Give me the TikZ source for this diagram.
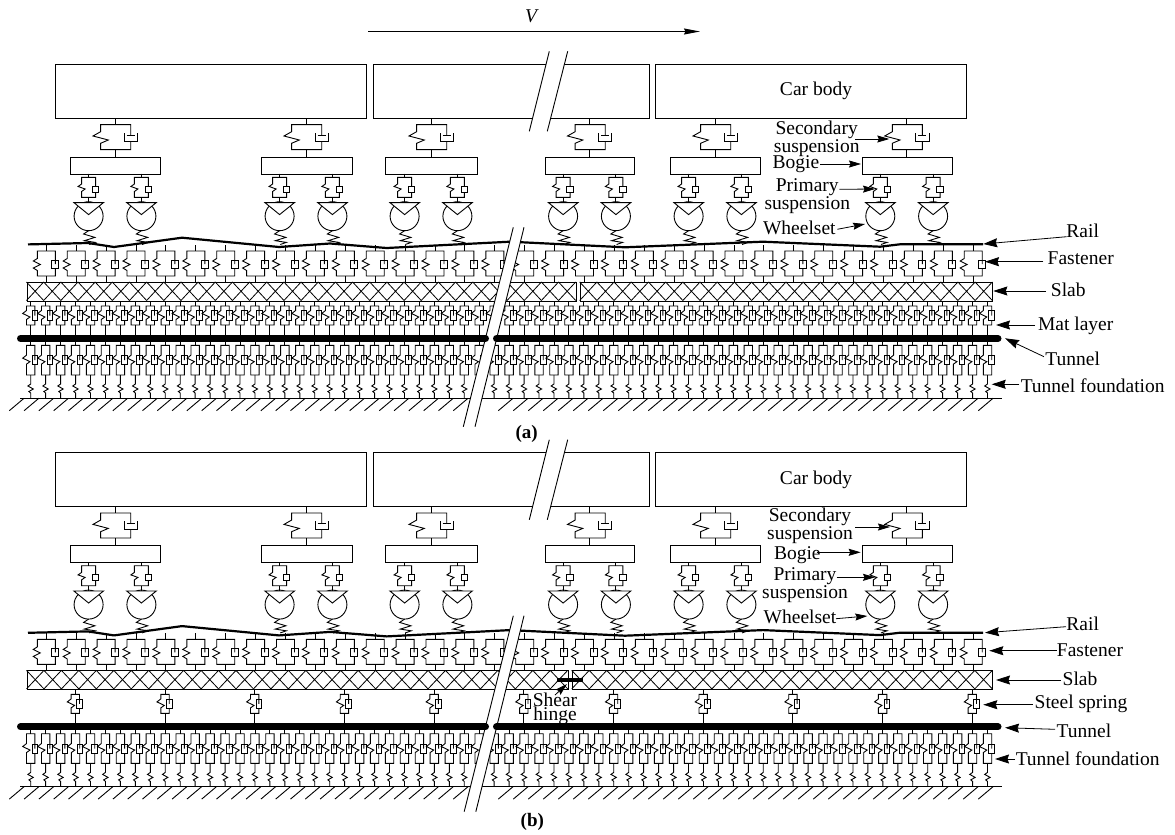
\documentclass[tikz,border=0pt]{standalone}
\usepackage{fontspec}
\setmainfont{Liberation Serif}
\usetikzlibrary{arrows.meta}
\tikzset{
  mech/.style={line width=0.9pt,line join=miter},
  boxn/.style={draw,line width=1pt,anchor=north west,inner sep=0pt,fill=white},
  lbl/.style={inner sep=0pt,align=center,font=\fontsize{19.5}{18}\selectfont},
  callarrow/.style={line width=0.8pt,-{Stealth[length=12pt,width=7pt,inset=1.5pt]}},
  bigarrow/.style={line width=0.8pt,-{Stealth[length=14pt,width=9pt,inset=1.5pt]}},
  railline/.style={line width=2.2pt,line join=round},
  tunnelline/.style={line width=7pt,line cap=round},
  breakline/.style={line width=0.9pt},
}
% secondary suspension (cx)
\newcommand\secsusp[1]{\begin{scope}[shift={(#1,0)},mech]
  \draw (0,118)--(0,124.6) (0,149.6)--(0,156.6);
  \draw (15.7,135.5)--(15.7,124.6)--(-14.4,124.6)--(-14.4,131.7)--(-22,136)--(-6.7,140)--(-14.4,143.3)--(-14.4,149.6)--(15.7,149.6)--(15.7,141.5);
  \draw (11.7,135.5)--(19.7,135.5);
  \draw (9,133)--(9,141.5)--(22.4,141.5)--(22.4,133);
\end{scope}}
% primary suspension + wheel (cx)
\newcommand\primwheel[1]{\begin{scope}[shift={(#1,0)},mech]
  \draw (0,173.6)--(0,177.3) (0,197.3)--(0,202.6);
  \draw (7,186)--(7,177.3)--(-7,177.3)--(-7,184)--(-10.5,186.5)--(-3.5,189)--(-7,191.5)--(-7,197.3)--(7,197.3)--(7,192);
  \draw (3.8,186) rectangle (10.2,192);
  \draw (0,216.2) circle (14.5);
  \draw[fill=white] (-14.7,202.6)--(14.9,202.6)--(0,214.6)--cycle;
  \draw (0,230.7)--(-5,234)--(6.3,237.4)--(-4.3,240.7)--(6.7,242.4)--(0.7,244.5);
\end{scope}}
% fastener (x)
\newcommand\fastunit[1]{\begin{scope}[shift={(#1,0)},mech]
  \draw (0,245)--(0,251) (0,276)--(0,282);
  \draw (9,264)--(9,251)--(-9,251)--(-9,258.5)--(-13,261)--(-6,264.5)--(-13,268)--(-9,270.5)--(-9,276)--(9,276)--(9,268);
  \draw (5.5,260) rectangle (12.5,268);
\end{scope}}
% soft unit: y0 top stem start, y1 box top, y2 box bottom, y3 stem end
\newcommand\softunit[5]{\begin{scope}[shift={(#1,0)},mech]
  \draw (0,#2)--(0,#3) (0,#4)--(0,#5);
  \draw (4.2,{0.5*(#3+#4)})--(4.2,#3)--(-4.2,#3)--(-4.2,{0.5*(#3+#4)-5})--(-8,{0.5*(#3+#4)-2})--(-0.7,{0.5*(#3+#4)+1.5})--(-4.2,{0.5*(#3+#4)+4})--(-4.2,#4)--(4.2,#4)--(4.2,{0.5*(#3+#4)+4.6});
  \draw (1.4,{0.5*(#3+#4)-4.6}) rectangle (7,{0.5*(#3+#4)+4.6});
\end{scope}}
% lower ground spring (x)
\newcommand\groundspring[1]{\begin{scope}[shift={(#1,0)},mech]
  \draw (0,375)--(0,384)--(-2.8,386)--(2.6,389)--(-1.8,391.5)--(0,393)--(0,398.3);
\end{scope}}
% slab segment
\newcommand\slabseg[3]{%
  \pgfmathtruncatemacro\nX{round((#3-#2)/17.2)}%
  \pgfmathsetmacro\pX{(#3-#2)/\nX}%
  \pgfmathtruncatemacro\nXm{\nX-1}%
  \node[boxn,minimum width=#3pt-#2pt,minimum height=18.5pt] (#1) at (#2,282) {};
  \foreach \k in {0,...,\nXm}{
    \draw[line width=0.8pt] ({#2+\k*\pX},282)--({#2+(\k+1)*\pX},300.5) ({#2+(\k+1)*\pX},282)--({#2+\k*\pX},300.5);
  }
}
\newcommand\callout[9][callarrow]{%
  \node[lbl] (#2) at (#3,#4) {#5};
  \coordinate (#2-s) at (#6,#7);
  \coordinate (#2-t) at (#8,#9);
  \draw[#1] (#2-s)--(#2-t);
}
\begin{document}
\begin{tikzpicture}[x=1pt,y=-1pt]
\useasboundingbox (0,0) rectangle (1175,835);
\fill[white] (0,0) rectangle (1175,835);
% velocity arrow
\node[lbl,font=\fontsize{19.5}{18}\selectfont\itshape] (vlabel) at (531,16.5) {V};
\coordinate (vs) at (368,31.5); \coordinate (vt) at (700,31.5);
\draw[line width=0.9pt,-{Stealth[length=16pt,width=6pt,inset=1.5pt]}] (vs)--(vt);

\foreach \tg/\dy/\bandb in {a/0/426.7,b/388.4/423.3}{
\begin{scope}[shift={(0,\dy)}]
  % car bodies
  \node[boxn,minimum width=311pt,minimum height=54pt] (car1\tg) at (55,64) {};
  \node[boxn,minimum width=276.3pt,minimum height=54pt] (car2\tg) at (372.7,64) {};
  \node[boxn,minimum width=311pt,minimum height=54pt] (car3\tg) at (655,64) {};
  % suspensions and bogies
  \foreach \c/\w [count=\n] in {115/90,306/91,431/91.4,589.5/89.6,715/90,906.7/90}{
    \secsusp{\c}
    \node[boxn,minimum width=\w pt,minimum height=17pt] (bogie\n\tg) at ({\c-0.5*\w},156.6) {};
    \primwheel{\c-26.4}
    \primwheel{\c+26.4}
  }
  % fasteners
  \foreach \k in {0,...,31}{
    \pgfmathsetmacro\xx{46.3+29.9*\k}
    \fastunit{\xx}
  }
  % rail
  \draw[railline] (28,244.4)--(88,243)--(114,247)--(182,237.7)--(279,247)--(330,243.5)--(386.7,248)--(510,241.7)--(625,247.3)--(763,241.7)--(880,246.7)--(900,244.3)--(983,244.3);
  % foundation
  \foreach \k in {0,...,64}{
    \pgfmathsetmacro\xx{30.7+14.95*\k}
    \softunit{\xx}{338.5}{345.3}{375}{375}
    \groundspring{\xx}
  }
  \coordinate (gl\tg) at (20,398.3); \coordinate (gr\tg) at (1001.7,398.3);
  \draw[mech] (gl\tg)--(gr\tg);
  \foreach \k in {0,...,30}{\draw[mech] ({24+14.8*\k},398.3)--({24+14.8*\k-14.7},410.7);}
  \foreach \k in {0,...,32}{\draw[mech] ({513+15*\k},398.3)--({513+15*\k-14.7},410.7);}
  % slab and layer
  \ifnum\pdfstrcmp{\tg}{a}=0
    \foreach \k in {0,...,64}{
      \pgfmathsetmacro\xx{30.7+14.95*\k}
      \softunit{\xx}{300.5}{306}{325}{335}
    }
    \slabseg{slabLa}{26.5}{575.7}
    \slabseg{slabRa}{579.7}{992.3}
  \else
    \foreach \k in {0,...,10}{
      \pgfmathsetmacro\xx{75.3+89.7*\k}
      \softunit{\xx}{300.5}{306}{325}{335}
    }
    \slabseg{slabLb}{26.5}{567.7}
    \slabseg{slabRb}{571.7}{992.3}
  \fi
  % break bands
  \fill[white] (549.3,51.3)--(567.7,51.3)--(547.3,131.3)--(529.3,131.3)--cycle;
  \draw[breakline] (549.3,51.3)--(529.3,131.3) (567.7,51.3)--(547.3,131.3);
  \fill[white] (513.3,227.3)--(524,227.3)--({524-0.2457*(\bandb-227.3)},\bandb)--({513.3-0.2507*(\bandb-227.3)},\bandb)--cycle;
  \draw[breakline] (513.3,227.3)--({513.3-0.2507*(\bandb-227.3)},\bandb) (524,227.3)--({524-0.2457*(\bandb-227.3)},\bandb);
  % tunnel
  \coordinate (tl\tg) at (20.5,338.5); \coordinate (tm1\tg) at (485.5,338.5);
  \coordinate (tm2\tg) at (496.5,338.5); \coordinate (tr\tg) at (998,338.5);
  \draw[tunnelline] (tl\tg)--(tm1\tg);
  \draw[tunnelline] (tm2\tg)--(tr\tg);
  % car body label
  \node[lbl] (carlabel\tg) at (816,91) {Car body};
\end{scope}
}
% shear hinge
\coordinate (hl) at (556.7,679.7); \coordinate (hr) at (583.3,679.7);
\draw[line width=4pt] (hl)--(hr);
\node[lbl] (shear) at (555,709) {Shear\\[-3.7pt]hinge};
\coordinate (shs) at (555,695); \coordinate (sht) at (567,684);
\draw[callarrow] (shs)--(sht);
% callouts a
\callout{secA}{816.7}{138.6}{Secondary\\suspension}{855}{139}{889.3}{139}
\callout{bogA}{796}{164.5}{Bogie}{820}{164}{861}{164}
\callout{priA}{807.3}{196.3}{Primary\\suspension}{839.3}{189.3}{875}{189}
\callout{wheA}{799.3}{228.3}{Wheelset}{837.3}{229.3}{865}{224}
\callout[bigarrow]{raiA}{1082.7}{230.7}{Rail}{1066.7}{236.7}{983.3}{244}
\callout[bigarrow]{fasA}{1080.7}{258}{Fastener}{1043.3}{261.7}{985}{261.7}
\callout[bigarrow]{slaA}{1068.3}{290}{Slab}{1046}{291}{993.3}{291}
\callout[bigarrow]{matA}{1075.7}{326}{Mat layer}{1035}{325}{996}{325}
\callout[bigarrow]{tunA}{1072.7}{358.7}{Tunnel}{1044}{356.7}{1005}{338.3}
\callout[bigarrow]{tfoA}{1092.7}{386}{Tunnel foundation}{1019.3}{384.3}{991.7}{384.3}
\node[lbl,font=\fontsize{19}{18}\selectfont\bfseries] (capA) at (526.7,434) {(a)};
% callouts b
\callout{secB}{810}{526.2}{Secondary\\suspension}{855}{527}{890}{527}
\callout{bogB}{797.3}{555.5}{Bogie}{816.7}{552.3}{860.7}{552.3}
\callout{priB}{805}{585}{Primary\\suspension}{836.7}{577.3}{875}{577.3}
\callout{wheB}{800}{617.3}{Wheelset}{836}{618.7}{867.3}{616}
\callout[bigarrow]{raiB}{1082.7}{624.3}{Rail}{1066}{626.7}{985}{632.7}
\callout[bigarrow]{fasB}{1090}{650}{Fastener}{1056.7}{650.7}{989.3}{650.7}
\callout[bigarrow]{slaB}{1080}{679}{Slab}{1061}{680}{996}{680}
\callout[bigarrow]{steB}{1081}{704}{Steel spring}{1032.7}{704.7}{983.3}{704.7}
\callout[bigarrow]{tunB}{1084}{730.7}{Tunnel}{1055}{729.3}{1005}{727.7}
\callout[bigarrow]{tfoB}{1087.7}{758.3}{Tunnel foundation}{1015}{759}{995}{759}
\node[lbl,font=\fontsize{19}{18}\selectfont\bfseries] (capB) at (532.3,822.3) {(b)};
\end{tikzpicture}
\end{document}
